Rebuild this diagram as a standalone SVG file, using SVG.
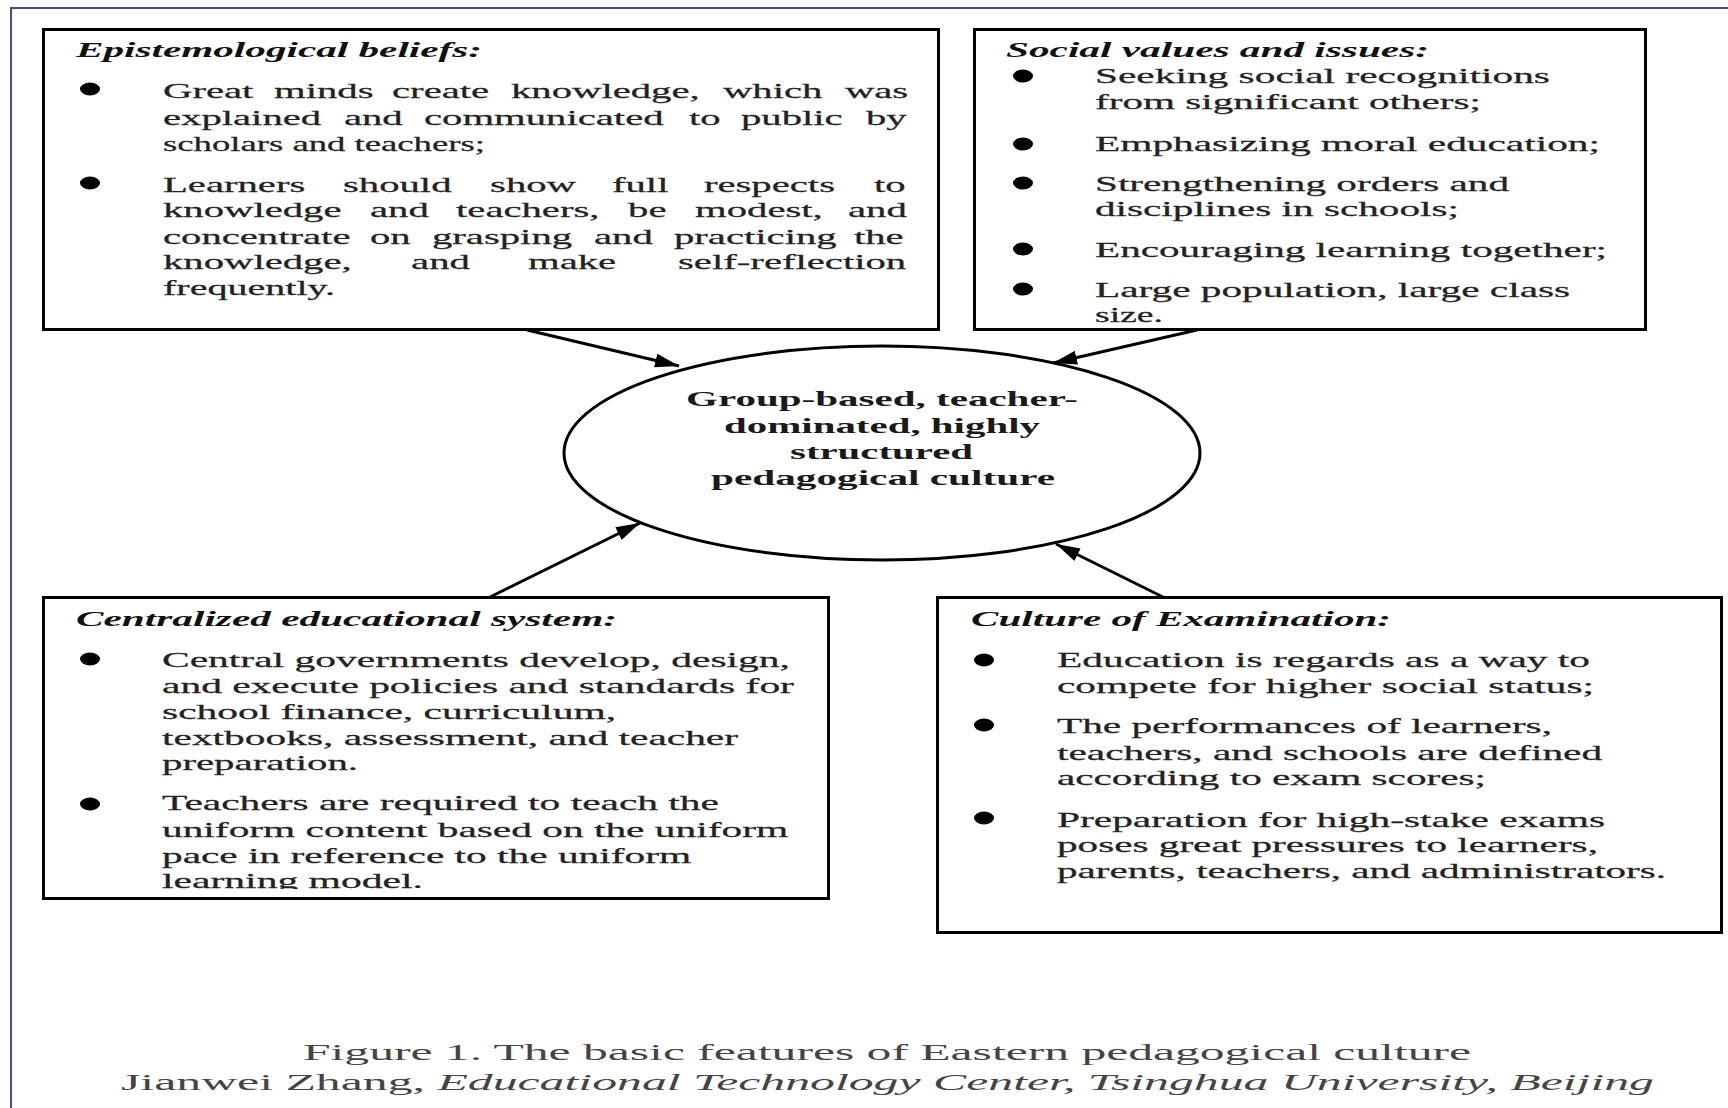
<svg xmlns="http://www.w3.org/2000/svg" width="1728" height="1108" viewBox="0 0 1728 1108">
<style>
.frame{fill:none;stroke:#4848a8;stroke-width:2}
.box{fill:#fff;stroke:#000;stroke-width:3}
.ell{fill:#fff;stroke:#000;stroke-width:3}
.b{fill:#000}
.t{font-family:"Liberation Serif","Times New Roman",serif;font-size:22px;fill:#222;stroke:#222;stroke-width:0.25}
.h{font-family:"Liberation Serif","Times New Roman",serif;font-size:22px;font-weight:bold;font-style:italic;fill:#111}
.c{font-family:"Liberation Serif","Times New Roman",serif;font-size:22px;font-weight:bold;fill:#1a1a1a}
.cap{font-family:"Liberation Serif","Times New Roman",serif;font-size:24px;fill:#444}
.conn{stroke:#000;stroke-width:3;fill:none}
</style>
<defs>
<marker id="ah" markerUnits="userSpaceOnUse" markerWidth="26" markerHeight="14" refX="24" refY="7" orient="auto">
<path d="M0,0 L24,7 L0,14 z" fill="#000"/>
</marker>
<clipPath id="c3"><rect x="43" y="597" width="786" height="292"/></clipPath>
</defs>
<rect x="0" y="0" width="1728" height="1108" fill="#fff"/>
<path class="frame" d="M11,1108 V8 H1728"/>

<g id="connectors">
<line class="conn" x1="527" y1="330" x2="679" y2="366" marker-end="url(#ah)"/>
<line class="conn" x1="1197" y1="330" x2="1053" y2="363" marker-end="url(#ah)"/>
<line class="conn" x1="490" y1="597" x2="640" y2="523" marker-end="url(#ah)"/>
<line class="conn" x1="1163" y1="597" x2="1056" y2="544" marker-end="url(#ah)"/>
</g>

<g id="epistemological">
<rect class="box" x="43.5" y="29.5" width="895" height="300"/>
<text class="h" x="76" y="57" textLength="406" lengthAdjust="spacingAndGlyphs">Epistemological beliefs:</text>
<ellipse class="b" cx="90" cy="89" rx="10" ry="6.5"/>
<ellipse class="b" cx="90" cy="183" rx="10" ry="6.5"/>
<g transform="translate(163,0) scale(1.85,1)">
<text class="t" y="98"><tspan x="0">Great</tspan><tspan x="60">minds</tspan><tspan x="123.8">create</tspan><tspan x="188.1">knowledge,</tspan><tspan x="302.7">which</tspan><tspan x="368.6">was</tspan></text>
<text class="t" y="125"><tspan x="0">explained</tspan><tspan x="97.8">and</tspan><tspan x="141.1">communicated</tspan><tspan x="284.3">to</tspan><tspan x="312.4">public</tspan><tspan x="380">by</tspan></text>
<text class="t" x="0" y="151" textLength="174" lengthAdjust="spacingAndGlyphs">scholars and teachers;</text>
<text class="t" y="192"><tspan x="0">Learners</tspan><tspan x="97.3">should</tspan><tspan x="176.8">show</tspan><tspan x="242.7">full</tspan><tspan x="292.4">respects</tspan><tspan x="384.3">to</tspan></text>
<text class="t" y="217"><tspan x="0">knowledge</tspan><tspan x="111.9">and</tspan><tspan x="158.4">teachers,</tspan><tspan x="251.4">be</tspan><tspan x="287.6">modest,</tspan><tspan x="370.3">and</tspan></text>
<text class="t" y="244"><tspan x="0">concentrate</tspan><tspan x="111.9">on</tspan><tspan x="145.4">grasping</tspan><tspan x="233">and</tspan><tspan x="276.2">practicing</tspan><tspan x="373.5">the</tspan></text>
<text class="t" y="269"><tspan x="0">knowledge,</tspan><tspan x="134.1">and</tspan><tspan x="197.3">make</tspan><tspan x="278.4">self-reflection</tspan></text>
<text class="t" x="0" y="295" textLength="93" lengthAdjust="spacingAndGlyphs">frequently.</text>
</g>
</g>

<g id="social">
<rect class="box" x="974.5" y="29.5" width="671" height="300"/>
<text class="h" x="1006" y="57" textLength="423" lengthAdjust="spacingAndGlyphs">Social values and issues:</text>
<ellipse class="b" cx="1023" cy="76" rx="10" ry="6.5"/>
<ellipse class="b" cx="1023" cy="144" rx="10" ry="6.5"/>
<ellipse class="b" cx="1023" cy="183" rx="10" ry="6.5"/>
<ellipse class="b" cx="1023" cy="249" rx="10" ry="6.5"/>
<ellipse class="b" cx="1023" cy="289" rx="10" ry="6.5"/>
<g transform="translate(1095,0) scale(1.72,1)">
<text class="t" x="0" y="83" textLength="264.5" lengthAdjust="spacingAndGlyphs">Seeking social recognitions</text>
<text class="t" x="0" y="109" textLength="224.4" lengthAdjust="spacingAndGlyphs">from significant others;</text>
<text class="t" x="0" y="151" textLength="293.6" lengthAdjust="spacingAndGlyphs">Emphasizing moral education;</text>
<text class="t" x="0" y="191" textLength="240.7" lengthAdjust="spacingAndGlyphs">Strengthening orders and</text>
<text class="t" x="0" y="216" textLength="211.6" lengthAdjust="spacingAndGlyphs">disciplines in schools;</text>
<text class="t" x="0" y="257" textLength="297.7" lengthAdjust="spacingAndGlyphs">Encouraging learning together;</text>
<text class="t" x="0" y="297" textLength="276.2" lengthAdjust="spacingAndGlyphs">Large population, large class</text>
<text class="t" x="0" y="322" textLength="39.5" lengthAdjust="spacingAndGlyphs">size.</text>
</g>
</g>

<g id="center">
<ellipse class="ell" cx="882" cy="453" rx="318" ry="107"/>
<text class="c" x="686" y="406" textLength="392" lengthAdjust="spacingAndGlyphs">Group-based, teacher-</text>
<text class="c" x="724" y="433" textLength="316" lengthAdjust="spacingAndGlyphs">dominated, highly</text>
<text class="c" x="790" y="459" textLength="183" lengthAdjust="spacingAndGlyphs">structured</text>
<text class="c" x="711" y="485" textLength="344" lengthAdjust="spacingAndGlyphs">pedagogical culture</text>
</g>

<g id="centralized">
<rect class="box" x="43.5" y="597.5" width="785" height="301"/>
<text class="h" x="76" y="626" textLength="541" lengthAdjust="spacingAndGlyphs">Centralized educational system:</text>
<ellipse class="b" cx="90" cy="659" rx="10" ry="6.5"/>
<ellipse class="b" cx="90" cy="804" rx="10" ry="6.5"/>
<g clip-path="url(#c3)">
<g transform="translate(162,0) scale(1.72,1)">
<text class="t" x="0" y="667" textLength="365.1" lengthAdjust="spacingAndGlyphs">Central governments develop, design,</text>
<text class="t" x="0" y="693" textLength="367.4" lengthAdjust="spacingAndGlyphs">and execute policies and standards for</text>
<text class="t" x="0" y="719" textLength="264" lengthAdjust="spacingAndGlyphs">school finance, curriculum,</text>
<text class="t" x="0" y="745" textLength="334.9" lengthAdjust="spacingAndGlyphs">textbooks, assessment, and teacher</text>
<text class="t" x="0" y="770" textLength="114" lengthAdjust="spacingAndGlyphs">preparation.</text>
<text class="t" x="0" y="810" textLength="323.8" lengthAdjust="spacingAndGlyphs">Teachers are required to teach the</text>
<text class="t" x="0" y="837" textLength="364" lengthAdjust="spacingAndGlyphs">uniform content based on the uniform</text>
<text class="t" x="0" y="863" textLength="307.6" lengthAdjust="spacingAndGlyphs">pace in reference to the uniform</text>
<text class="t" x="0" y="888" textLength="151.7" lengthAdjust="spacingAndGlyphs">learning model.</text>
</g>
</g>
</g>

<g id="examination">
<rect class="box" x="937.5" y="597.5" width="784" height="335"/>
<text class="h" x="971" y="626" textLength="420" lengthAdjust="spacingAndGlyphs">Culture of Examination:</text>
<ellipse class="b" cx="984" cy="660" rx="10" ry="6.5"/>
<ellipse class="b" cx="984" cy="725" rx="10" ry="6.5"/>
<ellipse class="b" cx="984" cy="818" rx="10" ry="6.5"/>
<g transform="translate(1057,0) scale(1.72,1)">
<text class="t" x="0" y="667" textLength="309.9" lengthAdjust="spacingAndGlyphs">Education is regards as a way to</text>
<text class="t" x="0" y="693" textLength="312.2" lengthAdjust="spacingAndGlyphs">compete for higher social status;</text>
<text class="t" x="0" y="733" textLength="287.8" lengthAdjust="spacingAndGlyphs">The performances of learners,</text>
<text class="t" x="0" y="760" textLength="316.9" lengthAdjust="spacingAndGlyphs">teachers, and schools are defined</text>
<text class="t" x="0" y="785" textLength="249.4" lengthAdjust="spacingAndGlyphs">according to exam scores;</text>
<text class="t" x="0" y="827" textLength="318.6" lengthAdjust="spacingAndGlyphs">Preparation for high-stake exams</text>
<text class="t" x="0" y="852" textLength="314.5" lengthAdjust="spacingAndGlyphs">poses great pressures to learners,</text>
<text class="t" x="0" y="878" textLength="354.1" lengthAdjust="spacingAndGlyphs">parents, teachers, and administrators.</text>
</g>
</g>

<g id="caption">
<text class="cap" x="303" y="1060" textLength="1168" lengthAdjust="spacingAndGlyphs">Figure 1. The basic features of Eastern pedagogical culture</text>
<text class="cap" x="121" y="1090" textLength="1533" lengthAdjust="spacingAndGlyphs">Jianwei Zhang, <tspan font-style="italic">Educational Technology Center, Tsinghua University, Beijing</tspan></text>
</g>
</svg>
